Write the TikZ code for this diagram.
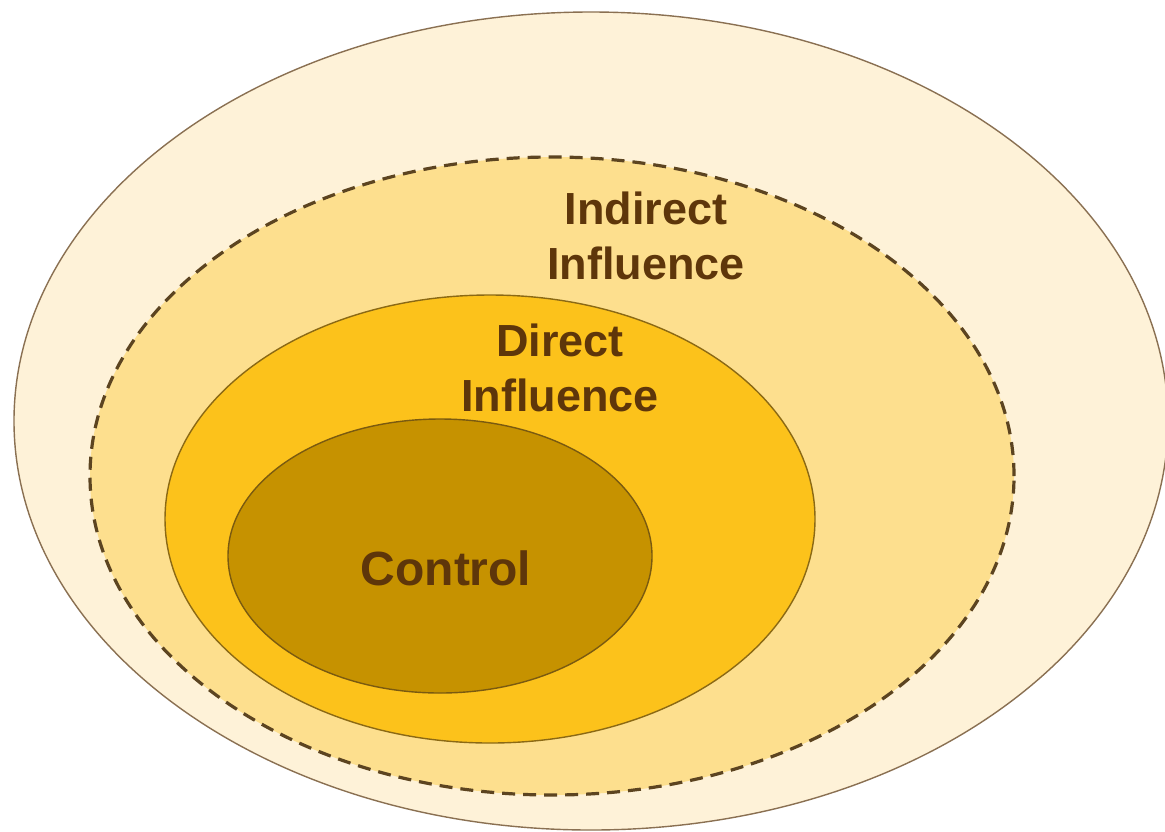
\documentclass[tikz,border=0pt]{standalone}
\usepackage{fontspec}
\setmainfont{Liberation Sans}
\usepackage{tikz}
\usetikzlibrary{shapes.geometric, positioning}
\definecolor{outerfill}{HTML}{FEF2D8}
\definecolor{outerline}{HTML}{8A7052}
\definecolor{indirectfill}{HTML}{FDDF8E}
\definecolor{indirectline}{HTML}{5C4420}
\definecolor{directfill}{HTML}{FCC21B}
\definecolor{directline}{HTML}{8B6914}
\definecolor{controlfill}{HTML}{C69200}
\definecolor{controlline}{HTML}{7A5A10}
\definecolor{textbrown}{HTML}{5E360A}

\begin{document}
\begin{tikzpicture}[
    x=0.5pt, y=-0.5pt,
    zone/.style={draw, ellipse, inner sep=0pt, line width=0.7pt},
    zonetext/.style={font=\bfseries\fontsize{22.5}{27.5}\selectfont, text=textbrown, align=center}
]
    \useasboundingbox (0,0) rectangle (1165,831);
    % circles of influence, outermost first
    \node[zone, fill=outerfill, draw=outerline, minimum width=577pt, minimum height=409pt] (outer) at (591,421) {};
    \node[zone, fill=indirectfill, draw=indirectline, line width=1.6pt, dash pattern=on 6.5pt off 4pt, minimum width=462pt, minimum height=319pt] (indirect) at (552,476) {};
    \node[zone, fill=directfill, draw=directline, minimum width=325pt, minimum height=224pt] (direct) at (490,519) {};
    \node[zone, fill=controlfill, draw=controlline, minimum width=212pt, minimum height=137pt] (control) at (440,556) {};

    \node[zonetext] (indirecttext) at (646,236) {Indirect\\Influence};
    \node[zonetext] (directtext) at (560,368) {Direct\\Influence};
    \node[zonetext, font=\bfseries\fontsize{24}{28}\selectfont] (controltext) at (446,568) {Control};
\end{tikzpicture}
\end{document}
